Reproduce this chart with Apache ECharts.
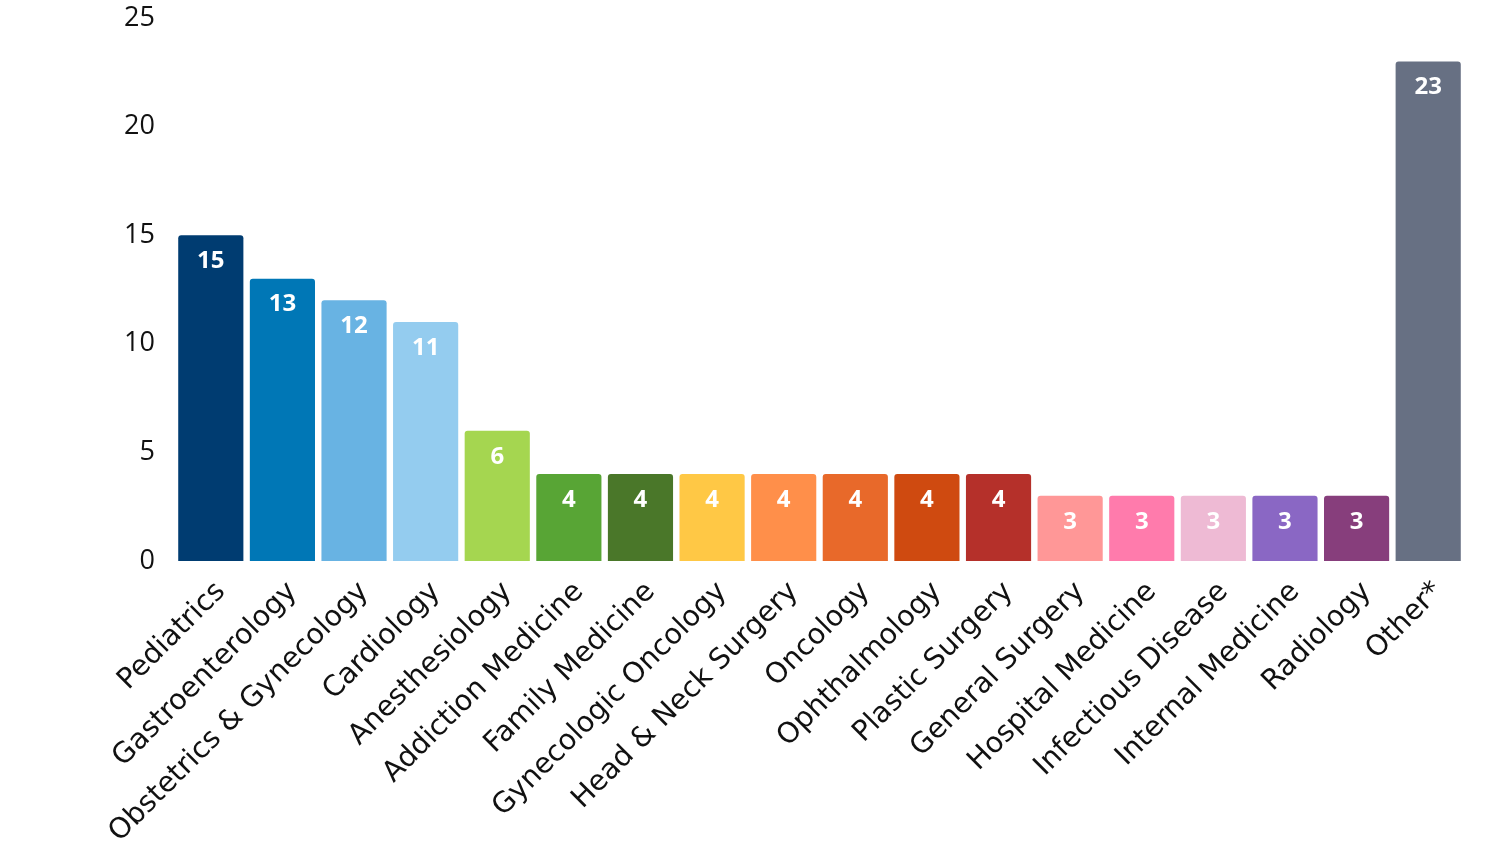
<!DOCTYPE html>
<html><head><meta charset="utf-8">
<script src="https://cdn.jsdelivr.net/npm/echarts@6/dist/echarts.min.js"></script>
<style>html,body{margin:0;padding:0;background:#fff}#c{width:1500px;height:861px}</style>
</head><body><div id="c"></div>
<script>
const categories = ["Pediatrics","Gastroenterology","Obstetrics & Gynecology","Cardiology","Anesthesiology","Addiction Medicine","Family Medicine","Gynecologic Oncology","Head & Neck Surgery","Oncology","Ophthalmology","Plastic Surgery","General Surgery","Hospital Medicine","Infectious Disease","Internal Medicine","Radiology","Other*"];
const values = [15,13,12,11,6,4,4,4,4,4,4,4,3,3,3,3,3,23];
const colors = ["#003c71","#0077b6","#68b3e3","#94ccef","#a5d650","#58a535","#4a7729","#ffc845","#ff8f4a","#e8692a","#cf4a10","#b5302a","#ff9797","#ff7bac","#eebad4","#8a67c4","#873e7c","#677083"];
const yTicks = [0,5,10,15,20,25];
const FONT = "Open Sans";
const chart = echarts.init(document.getElementById('c'));
chart.setOption({
  animation:false,
  grid:{left:175,right:36,top:18,bottom:300,containLabel:false},
  xAxis:{type:'category',data:categories,
    axisLine:{show:false},axisTick:{show:false},
    axisLabel:{rotate:45,interval:0,margin:16,verticalAlign:'top',fontSize:28.5,fontFamily:"DejaVu Sans",color:'#111'}},
  yAxis:{type:'value',min:yTicks[0],max:yTicks[yTicks.length-1],interval:5,
    splitLine:{show:false},axisLine:{show:false},axisTick:{show:false},
    axisLabel:{margin:20,fontSize:27,fontFamily:FONT,color:'#111'}},
  series:[{type:'bar',barCategoryGap:'9%',
    data:values.map((v,i)=>({value:v,itemStyle:{color:colors[i],borderRadius:[3,3,0,0]}})),
    label:{show:true,position:'insideTop',distance:14,color:'#fff',fontWeight:'bold',fontSize:24,fontFamily:FONT}}]
});
</script></body></html>
